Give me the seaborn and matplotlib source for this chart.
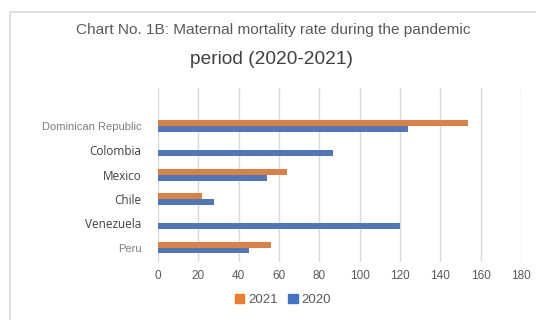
import pandas as pd
import numpy as np
import seaborn as sns
import matplotlib.pyplot as plt
from matplotlib.patches import Rectangle

sns.set_style("white")
plt.rcParams["font.family"] = ["Liberation Sans", "DejaVu Sans"]

# Data
countries = ["Dominican Republic", "Colombia", "Mexico", "Chile", "Venezuela", "Peru"]
rate_2021 = [154, np.nan, 64, 22, np.nan, 56]
rate_2020 = [124, 87, 54, 28, 120, 45]
x_ticks = [0, 20, 40, 60, 80, 100, 120, 140, 160, 180]

orange = "#ED7D31"
blue = "#4472C4"
gray_txt = "#595959"

df = pd.DataFrame({
    "country": countries * 2,
    "year": ["2021"] * len(countries) + ["2020"] * len(countries),
    "value": rate_2021 + rate_2020,
}).dropna()

fig = plt.figure(figsize=(5.36, 3.2), dpi=100)
ax = fig.add_axes([0.2948, 0.181, 0.677, 0.544])

# light frame around the chart like the Excel chart area
fig.patches.append(Rectangle((10 / 536, -0.1), 1.2, 1 - 12 / 320 + 0.1,
                             transform=fig.transFigure, fill=False,
                             edgecolor="#d9d9d9", linewidth=1.2))

sns.barplot(data=df, y="country", x="value", hue="year",
            order=countries, hue_order=["2021", "2020"],
            palette={"2021": orange, "2020": blue},
            orient="h", errorbar=None, width=0.49, gap=0,
            linewidth=0, edgecolor="none", ax=ax)

ax.set_xlim(0, 180)
ax.set_ylim(5.6, -1.57)
ax.set_xticks(x_ticks)
ax.set_xlabel("")
ax.set_ylabel("")
for s in ax.spines.values():
    s.set_visible(False)
ax.grid(axis="x", color="#d9d9d9", linewidth=1)
ax.grid(axis="y", visible=False)
ax.set_axisbelow(True)
ax.tick_params(axis="x", colors=gray_txt, labelsize=8.5, length=0, pad=6)
ax.tick_params(axis="y", length=0, pad=12)

# mixed label styles as in the original image
for lab in ax.get_yticklabels():
    t = lab.get_text()
    if t in ("Dominican Republic", "Peru"):
        lab.set_fontsize(8)
        lab.set_color("#7f7f7f")
    else:
        lab.set_fontfamily(["Open Sans", "DejaVu Sans"])
        lab.set_fontsize(8.5)
        lab.set_color("#404040")

ax.legend_.remove()
handles = [Rectangle((0, 0), 1, 1, color=orange), Rectangle((0, 0), 1, 1, color=blue)]
fig.legend(handles, ["2021", "2020"], loc="center", bbox_to_anchor=(0.528, 0.062),
           ncol=2, frameon=False, fontsize=9.5, handlelength=0.7, handleheight=0.7,
           handletextpad=0.3, columnspacing=0.8, labelcolor=gray_txt)

fig.text(0.51, 0.905, "Chart No. 1B: Maternal mortality rate during the pandemic",
         ha="center", va="center", fontsize=11.1, color=gray_txt)
fig.text(0.506, 0.815, "period (2020-2021)", ha="center", va="center",
         fontsize=13.8, color="#404040")

fig.savefig("out.png", dpi=100)
